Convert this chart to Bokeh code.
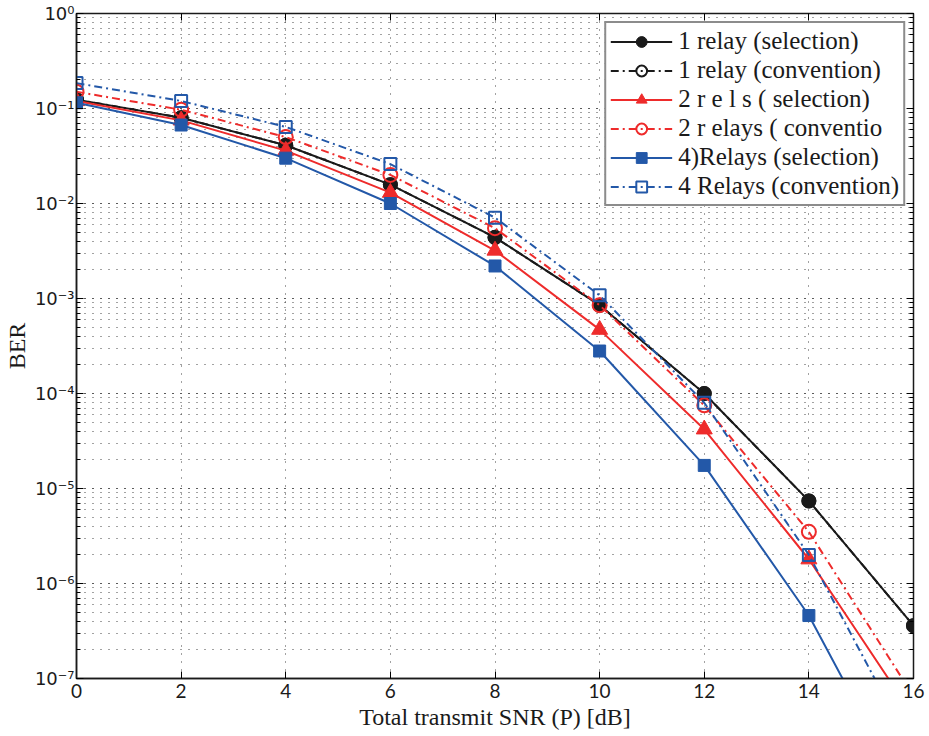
from bokeh.plotting import figure
from bokeh.models import (LogAxis, LinearAxis, CustomJSTickFormatter, FixedTicker,
                          Legend, LegendItem, Range1d, LogTicker)
from bokeh.embed import file_html
from bokeh.resources import INLINE

# ---------------- data ----------------
snr_db = [0, 2, 4, 6, 8, 10, 12, 14, 16]
ber_1_sel = [0.124, 0.080, 0.041, 0.0158, 0.0044, 8.5e-4, 1.0e-4, 7.4e-6, 3.6e-7]
ber_1_conv = [0.124, 0.080, 0.041, 0.0158, 0.0044, 8.5e-4, 1.0e-4, 7.4e-6, 3.6e-7]
ber_2_sel = [0.12, 0.075, 0.036, 0.013, 0.0032, 4.7e-4, 4.2e-5, 1.8e-6, 4e-8]
ber_2_conv = [0.15, 0.097, 0.050, 0.020, 0.0055, 8.5e-4, 7.5e-5, 3.5e-6, 6.5e-8]
ber_4_sel = [0.115, 0.067, 0.030, 0.010, 0.0022, 2.8e-4, 1.75e-5, 4.6e-7, 4e-9]
ber_4_conv = [0.185, 0.120, 0.064, 0.026, 0.0071, 1.08e-3, 8.0e-5, 2.0e-6, 1.7e-8]

legend_labels = ["1 relay (selection)", "1 relay (convention)", "2 r e l s ( selection)",
                 "2 r elays ( conventio", "4)Relays (selection)", "4 Relays (convention)"]
x_ticks = [0, 2, 4, 6, 8, 10, 12, 14, 16]

BLACK = "#1a1a1a"
RED = "#ee2b2b"
BLUE = "#2358a8"
GRID = "#444444"

p = figure(width=929, height=736, y_axis_type="log",
           x_range=Range1d(0, 16), y_range=Range1d(1e-7, 1),
           output_backend="svg", toolbar_location=None,
           min_border_left=74, min_border_right=16, min_border_top=13, min_border_bottom=58)

p.background_fill_color = "white"
p.border_fill_color = "white"
p.outline_line_color = BLACK
p.outline_line_width = 1.5

sup = CustomJSTickFormatter(code="""
const e = Math.round(Math.log10(tick));
const m = {'-':'\u207b','0':'\u2070','1':'\u00b9','2':'\u00b2','3':'\u00b3','4':'\u2074','5':'\u2075','6':'\u2076','7':'\u2077','8':'\u2078','9':'\u2079'};
return '10' + String(e).split('').map(c => m[c]).join('');
""")
blank = CustomJSTickFormatter(code="return '';")

p.xaxis.ticker = FixedTicker(ticks=x_ticks)
p.yaxis.ticker = LogTicker(desired_num_ticks=8, num_minor_ticks=10)
p.yaxis.formatter = sup

for ax in [p.xaxis[0], p.yaxis[0]]:
    ax.major_tick_in = 7
    ax.major_tick_out = 0
    ax.minor_tick_in = 4
    ax.minor_tick_out = 0
    ax.axis_line_color = BLACK
    ax.axis_line_width = 1.5
    ax.major_label_text_font = "Lato"
    ax.major_label_text_font_size = "19px"
    ax.major_label_text_color = BLACK
    ax.axis_label_text_font = "Liberation Serif"
    ax.axis_label_text_font_style = "normal"
    ax.axis_label_text_font_size = "24px"
    ax.axis_label_text_color = BLACK
p.yaxis.major_label_text_font = "DejaVu Sans"
p.yaxis.major_label_text_font_size = "18px"
p.xaxis.minor_tick_line_color = None
p.xaxis.axis_label = "Total transmit SNR (P) [dB]"
p.yaxis.axis_label = "BER"
p.xaxis.major_label_standoff = 5
p.yaxis.major_label_standoff = 2
p.xaxis.axis_label_standoff = 3
p.yaxis.axis_label_standoff = 2

right = LogAxis(ticker=LogTicker(desired_num_ticks=8, num_minor_ticks=10), formatter=blank,
                major_tick_in=7, major_tick_out=0, minor_tick_in=4, minor_tick_out=0,
                major_label_text_font_size="1px", axis_line_color=BLACK, major_label_standoff=0)
top = LinearAxis(ticker=FixedTicker(ticks=x_ticks), formatter=blank,
                 major_tick_in=7, major_tick_out=0, minor_tick_line_color=None,
                 major_label_text_font_size="1px", axis_line_color=BLACK, major_label_standoff=0)
p.add_layout(right, "right")
p.add_layout(top, "above")

p.xgrid.ticker = FixedTicker(ticks=x_ticks)
p.xgrid.grid_line_color = GRID
p.xgrid.grid_line_dash = "1 7"
p.xgrid.grid_line_width = 1
p.ygrid.grid_line_color = GRID
p.ygrid.grid_line_dash = "1 7"
p.ygrid.minor_grid_line_color = GRID
p.ygrid.minor_grid_line_dash = "1 7"

series = [
    (ber_1_sel, BLACK, "solid", "circle", True, 14),
    (ber_1_conv, BLACK, "8 4 2 4", "circle", False, 13),
    (ber_2_sel, RED, "solid", "triangle", True, 16),
    (ber_2_conv, RED, "8 4 2 4", "circle", False, 14),
    (ber_4_sel, BLUE, "solid", "square", True, 12),
    (ber_4_conv, BLUE, "8 4 2 4", "square", False, 12),
]

items = []
for (vals, color, dash, marker, filled, size), label in zip(series, legend_labels):
    ln = p.line(snr_db, vals, line_color=color, line_width=2, line_dash=dash)
    if filled:
        sc = p.scatter(snr_db, vals, marker=marker, size=size, fill_color=color,
                       line_color=color, line_width=1)
    else:
        sc = p.scatter(snr_db, vals, marker=marker, size=size, fill_color="white",
                       fill_alpha=0, line_color=color, line_width=2)
    items.append(LegendItem(label=label, renderers=[ln, sc]))

legend = Legend(items=items, location="top_right",
                label_text_font="Liberation Serif", label_text_font_size="25px",
                label_text_color=BLACK,
                glyph_width=62, glyph_height=27, label_height=27, spacing=1,
                padding=4, margin=8, label_standoff=6,
                border_line_color=BLACK, border_line_width=2,
                background_fill_color="white", background_fill_alpha=1)
p.add_layout(legend, "center")

open("out.html", "w").write(file_html(p, INLINE))
